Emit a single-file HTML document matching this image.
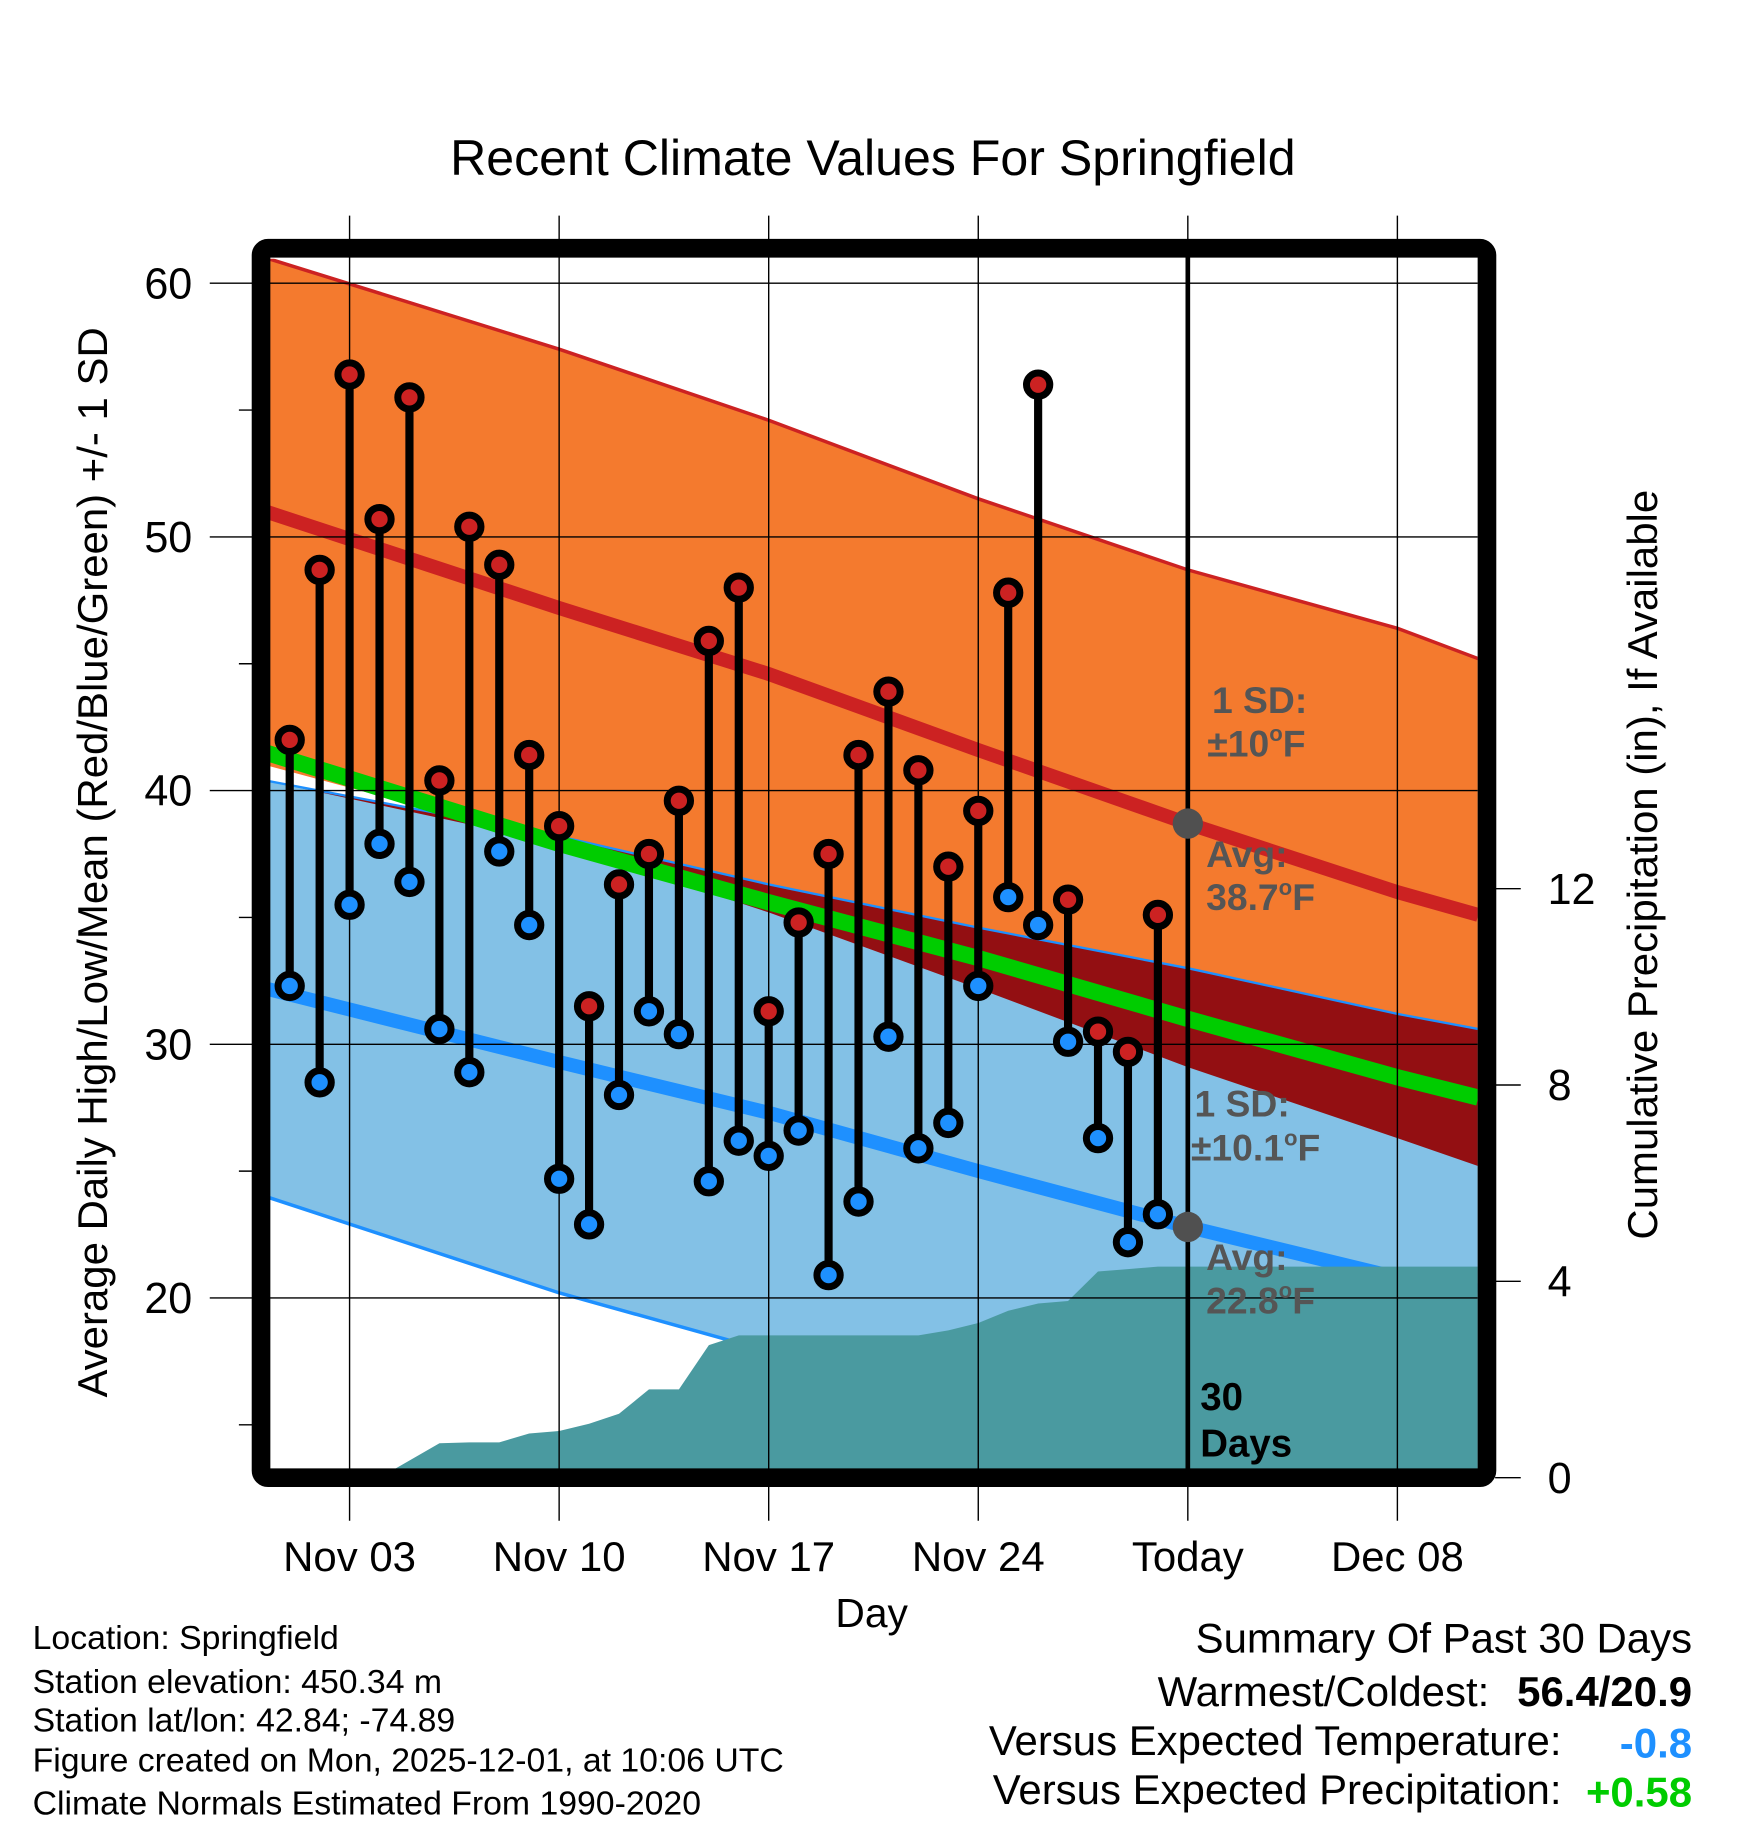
<!DOCTYPE html>
<html><head><meta charset="utf-8"><style>
html,body{margin:0;padding:0;background:#fff}
svg{display:block}
text{font-family:"Liberation Sans",Arial,sans-serif}
</style></head><body>
<svg id="chart" width="1748" height="1828" viewBox="0 0 1500 1568.6" xmlns="http://www.w3.org/2000/svg">
<defs><clipPath id="pc"><rect x="230" y="222" width="1038" height="1046"/></clipPath></defs>
<text x="749" y="150" font-size="43" text-anchor="middle">Recent Climate Values For Springfield</text>
<g id="plot" clip-path="url(#pc)"></g>
<g id="over"></g>
</svg>
<script>
// ---- data ----
const days = ["Nov 01","Nov 02","Nov 03","Nov 04","Nov 05","Nov 06","Nov 07","Nov 08","Nov 09","Nov 10","Nov 11","Nov 12","Nov 13","Nov 14","Nov 15","Nov 16","Nov 17","Nov 18","Nov 19","Nov 20","Nov 21","Nov 22","Nov 23","Nov 24","Nov 25","Nov 26","Nov 27","Nov 28","Nov 29","Nov 30"];
const highs = [42.0,48.7,56.4,50.7,55.5,40.4,50.4,48.9,41.4,38.6,31.5,36.3,37.5,39.6,45.9,48.0,31.3,34.8,37.5,41.4,43.9,40.8,37.0,39.2,47.8,56.0,35.7,30.5,29.7,35.1];
const lows  = [32.3,28.5,35.5,37.9,36.4,30.6,28.9,37.6,34.7,24.7,22.9,28.0,31.3,30.4,24.6,26.2,25.6,26.6,20.9,23.8,30.3,25.9,26.9,32.3,35.8,34.7,30.1,26.3,22.2,23.3];
const precip = [0,0,0,0,0.35,0.7,0.72,0.72,0.9,0.95,1.1,1.3,1.8,1.8,2.7,2.9,2.9,2.9,2.9,2.9,2.9,2.9,3.0,3.15,3.4,3.55,3.6,4.2,4.25,4.3];
// normals sampled at day offsets from Nov 01 (-0.8 = left edge, 39.7 = right edge)
const normDays   = [-0.8, 9, 16, 23, 30, 37, 39.7];
const highUpper  = [61.0, 57.4, 54.6, 51.5, 48.7, 46.4, 45.2];
const highAvg    = [51.0, 47.2, 44.6, 41.6, 38.7, 36.0, 35.1];
const highLower  = [41.0, 37.9, 35.2, 32.2, 29.1, 26.3, 25.2];
const meanAvg    = [41.5, 37.9, 35.6, 33.4, 31.0, 28.7, 27.9];
const lowUpper   = [40.4, 38.2, 36.3, 34.6, 33.0, 31.2, 30.6];
const lowAvg     = [32.2, 29.3, 27.3, 25.0, 22.8, 20.8, 20.3];
const lowLower   = [24.0, 20.2, 17.9, 15.3, 12.0, 9.5, 8.8];
const yTicks = [20,30,40,50,60];
const yMinor = [15,25,35,45,55];
const pTicks = [0,4,8,12];
const xTickDays = [2,9,16,23,30,37];
const xTickLabels = ["Nov 03","Nov 10","Nov 17","Nov 24","Today","Dec 08"];
const todayDay = 30;

// ---- scales ----
const X = d => 248.6 + d*25.69;
const Y = v => 243 + (60 - v)*21.77;
const P = p => 1268 - p*42.12;
const NS = "http://www.w3.org/2000/svg";
const plot = document.getElementById('plot'), over = document.getElementById('over');
function mk(tag, attrs, parent){const e=document.createElementNS(NS,tag);for(const k in attrs)e.setAttribute(k,attrs[k]);parent.appendChild(e);return e;}
const pts = arr => normDays.map((d,i)=>X(d).toFixed(1)+','+Y(arr[i]).toFixed(1));
function band(a,b,fill,name){
  const e=mk('polygon',{points:pts(a).concat(pts(b).reverse()).join(' '),fill:fill},plot);
  
  
}
function line(a,stroke,w,name){
  const e=mk('polyline',{points:pts(a).join(' '),fill:'none',stroke:stroke,'stroke-width':w},plot);
  
  
}
band(highUpper, highLower, '#f47a2e', 'high-sd-band');
band(lowUpper, lowLower, '#83c1e6', 'low-sd-band');
const ov = normDays.map((d,i)=>Math.min(highLower[i], lowUpper[i]));
band(lowUpper, ov, '#930f12', 'sd-overlap-band');
line(lowUpper,'#1e90ff',2,'low-upper-sd-line');
line(lowLower,'#1e90ff',3,'low-lower-sd-line');
line(highUpper,'#cc2222',3,'high-upper-sd-line');
line(highAvg,'#cc2222',12,'avg-high-line');
line(meanAvg,'#00cc00',14,'avg-mean-line');
line(lowAvg,'#1e90ff',12,'avg-low-line');
{
  let p=[X(-0.8)+','+P(0)];
  precip.forEach((v,i)=>p.push(X(i).toFixed(1)+','+P(v).toFixed(1)));
  p.push(X(39.7)+','+P(precip[precip.length-1]).toFixed(1));
  p.push(X(39.7)+','+P(-1)); p.push(X(-0.8)+','+P(-1));
  const e=mk('polygon',{points:p.join(' '),fill:'#4a9aa0'},plot);
  
  
}
yTicks.forEach(v=>{
  const e=mk('line',{x1:180,x2:1268,y1:Y(v),y2:Y(v),stroke:'#000','stroke-width':1.2},over);
  
  
  const t=mk('text',{x:165,y:Y(v)+13,'font-size':37,'text-anchor':'end'},over);
  t.textContent=v;
  
  
});
yMinor.forEach(v=>{
  const e=mk('line',{x1:205,x2:222,y1:Y(v),y2:Y(v),stroke:'#000','stroke-width':1.2},over);
  
  
});
xTickDays.forEach((d,i)=>{
  const e=mk('line',{x1:X(d),x2:X(d),y1:185,y2:1305,stroke:'#000','stroke-width':1.2},over);
  
  
  const t=mk('text',{x:X(d),y:1348,'font-size':36,'text-anchor':'middle'},over);
  t.textContent=xTickLabels[i];
  
  
});
pTicks.forEach(v=>{
  const e=mk('line',{x1:1283,x2:1305,y1:P(v),y2:P(v),stroke:'#000','stroke-width':1.2},over);
  
  
  const t=mk('text',{x:1328,y:P(v)+13,'font-size':37},over);
  t.textContent=v;
  
  
});
{
  const e=mk('line',{x1:X(todayDay),x2:X(todayDay),y1:212,y2:1268,stroke:'#000','stroke-width':4},over);
  
  
}
highs.forEach((h,i)=>{
  const s=mk('line',{x1:X(i),x2:X(i),y1:Y(h),y2:Y(lows[i]),stroke:'#000','stroke-width':7},over);
  
  
});
highs.forEach((h,i)=>{
  const a=mk('circle',{cx:X(i),cy:Y(h),r:10,fill:'#cc2222',stroke:'#000','stroke-width':6},over);
  
  
  const b=mk('circle',{cx:X(i),cy:Y(lows[i]),r:10,fill:'#1e90ff',stroke:'#000','stroke-width':6},over);
  
  
});
{
  const i=normDays.indexOf(todayDay);
  const a=mk('circle',{cx:X(todayDay),cy:Y(highAvg[i]),r:13,fill:'#505050'},over);
  
  
  const b=mk('circle',{cx:X(todayDay),cy:Y(lowAvg[i]),r:13,fill:'#505050'},over);
  
  
}
</script>
<svg style="position:absolute;left:0;top:0" width="1748" height="1828" viewBox="0 0 1500 1568.6" xmlns="http://www.w3.org/2000/svg">
<g font-family="Liberation Sans, Arial, sans-serif">
<rect x="224" y="213" width="1052" height="1055" rx="6" fill="none" stroke="#000" stroke-width="16"/>
<g fill="#555" font-weight="bold" font-size="32">
<text x="1040" y="612">1 SD:</text>
<text x="1036" y="649">±10<tspan font-size="19" dy="-13">o</tspan><tspan dy="13">F</tspan></text>
<text x="1035" y="744">Avg:</text>
<text x="1035" y="781">38.7<tspan font-size="19" dy="-13">o</tspan><tspan dy="13">F</tspan></text>
<text x="1025" y="958">1 SD:</text>
<text x="1022" y="996">±10.1<tspan font-size="19" dy="-13">o</tspan><tspan dy="13">F</tspan></text>
<text x="1035" y="1090">Avg:</text>
<text x="1035" y="1127">22.8<tspan font-size="19" dy="-13">o</tspan><tspan dy="13">F</tspan></text>
</g>
<text x="1030" y="1210" font-size="33" font-weight="bold">30</text>
<text x="1030" y="1250" font-size="33" font-weight="bold">Days</text>
<text transform="translate(92,740) rotate(-90)" font-size="36" text-anchor="middle">Average Daily High/Low/Mean (Red/Blue/Green) +/- 1 SD</text>
<text transform="translate(1422,742) rotate(-90)" font-size="36" text-anchor="middle">Cumulative Precipitation (in), If Available</text>
<text x="748" y="1396" font-size="35" text-anchor="middle">Day</text>
<g font-size="29">
<text x="28" y="1415">Location: Springfield</text>
<text x="28" y="1453">Station elevation: 450.34 m</text>
<text x="28" y="1486">Station lat/lon: 42.84; -74.89</text>
<text x="28" y="1520">Figure created on Mon, 2025-12-01, at 10:06 UTC</text>
<text x="28" y="1557">Climate Normals Estimated From 1990-2020</text>
</g>
<g font-size="36" text-anchor="end">
<text x="1452" y="1418">Summary Of Past 30 Days</text>
<text x="1278" y="1464">Warmest/Coldest:</text>
<text x="1452" y="1464" font-weight="bold">56.4/20.9</text>
<text x="1340" y="1506">Versus Expected Temperature:</text>
<text x="1452" y="1508" font-weight="bold" fill="#1e90ff">-0.8</text>
<text x="1340" y="1548">Versus Expected Precipitation:</text>
<text x="1452" y="1550" font-weight="bold" fill="#00cc00">+0.58</text>
</g>
</g>
</svg>
</body></html>
